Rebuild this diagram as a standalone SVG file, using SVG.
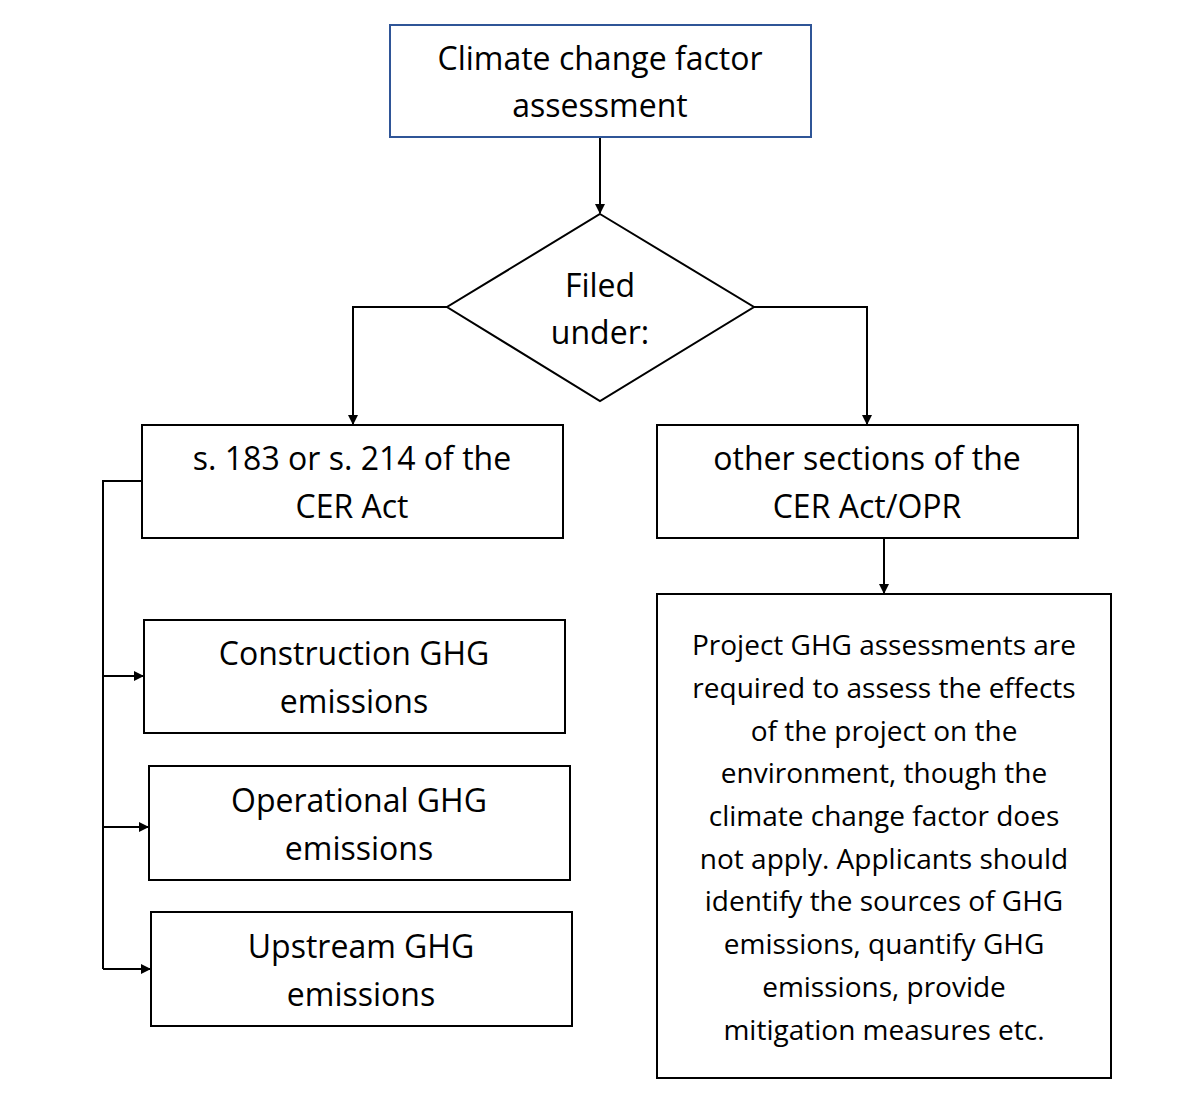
<svg xmlns="http://www.w3.org/2000/svg" width="1200" height="1097" viewBox="0 0 1200 1097">
<defs><marker id="ah" markerWidth="10" markerHeight="10" refX="9" refY="5" orient="auto" markerUnits="userSpaceOnUse"><path d="M0,0 L10,5 L0,10 z" fill="#000"/></marker></defs>
<style>
.b{fill:#fff;stroke:#000;stroke-width:2}
.t{font-family:"Open Sans","Liberation Sans",sans-serif;font-size:32px;text-anchor:middle;fill:#000}
.s{font-family:"Open Sans","Liberation Sans",sans-serif;font-size:28px;text-anchor:middle;fill:#000}
.c{fill:none;stroke:#000;stroke-width:2;marker-end:url(#ah)}
</style>
<rect width="1200" height="1097" fill="#fff"/>
<g id="connectors">
<path class="c" d="M600,137 V213"/>
<path class="c" d="M447,307 H353 V424"/>
<path class="c" d="M754,307 H867 V424"/>
<path class="c" d="M884,538 V593"/>
<path fill="none" stroke="#000" stroke-width="2" d="M142,481 H103 V969"/>
<path class="c" d="M103,676 H143"/>
<path class="c" d="M103,827 H148"/>
<path class="c" d="M103,969 H150"/>
</g>
<g id="n1"><rect class="b" x="390" y="25" width="421" height="112" stroke="#2f5597" style="stroke:#2f5597"/><text class="t" x="600" y="70">Climate change factor</text><text class="t" x="600" y="117">assessment</text></g>
<g id="n2"><polygon class="b" points="600,214 754,307 600,401 447,307"/><text class="t" x="600" y="297">Filed</text><text class="t" x="600" y="344">under:</text></g>
<g id="n3"><rect class="b" x="142" y="425" width="421" height="113"/><text class="t" x="352" y="470">s. 183 or s. 214 of the</text><text class="t" x="352" y="518">CER Act</text></g>
<g id="n4"><rect class="b" x="657" y="425" width="421" height="113"/><text class="t" x="867" y="470">other sections of the</text><text class="t" x="867" y="518">CER Act/OPR</text></g>
<g id="n5"><rect class="b" x="144" y="620" width="421" height="113"/><text class="t" x="354" y="665">Construction GHG</text><text class="t" x="354" y="713">emissions</text></g>
<g id="n6"><rect class="b" x="149" y="766" width="421" height="114"/><text class="t" x="359" y="812">Operational GHG</text><text class="t" x="359" y="860">emissions</text></g>
<g id="n7"><rect class="b" x="151" y="912" width="421" height="114"/><text class="t" x="361" y="958">Upstream GHG</text><text class="t" x="361" y="1006">emissions</text></g>
<g id="n8"><rect class="b" x="657" y="594" width="454" height="484"/>
<text class="s" x="884" y="655">Project GHG assessments are</text>
<text class="s" x="884" y="698">required to assess the effects</text>
<text class="s" x="884" y="741">of the project on the</text>
<text class="s" x="884" y="783">environment, though the</text>
<text class="s" x="884" y="826">climate change factor does</text>
<text class="s" x="884" y="869">not apply. Applicants should</text>
<text class="s" x="884" y="911">identify the sources of GHG</text>
<text class="s" x="884" y="954">emissions, quantify GHG</text>
<text class="s" x="884" y="997">emissions, provide</text>
<text class="s" x="884" y="1040">mitigation measures etc.</text>
</g>
</svg>
